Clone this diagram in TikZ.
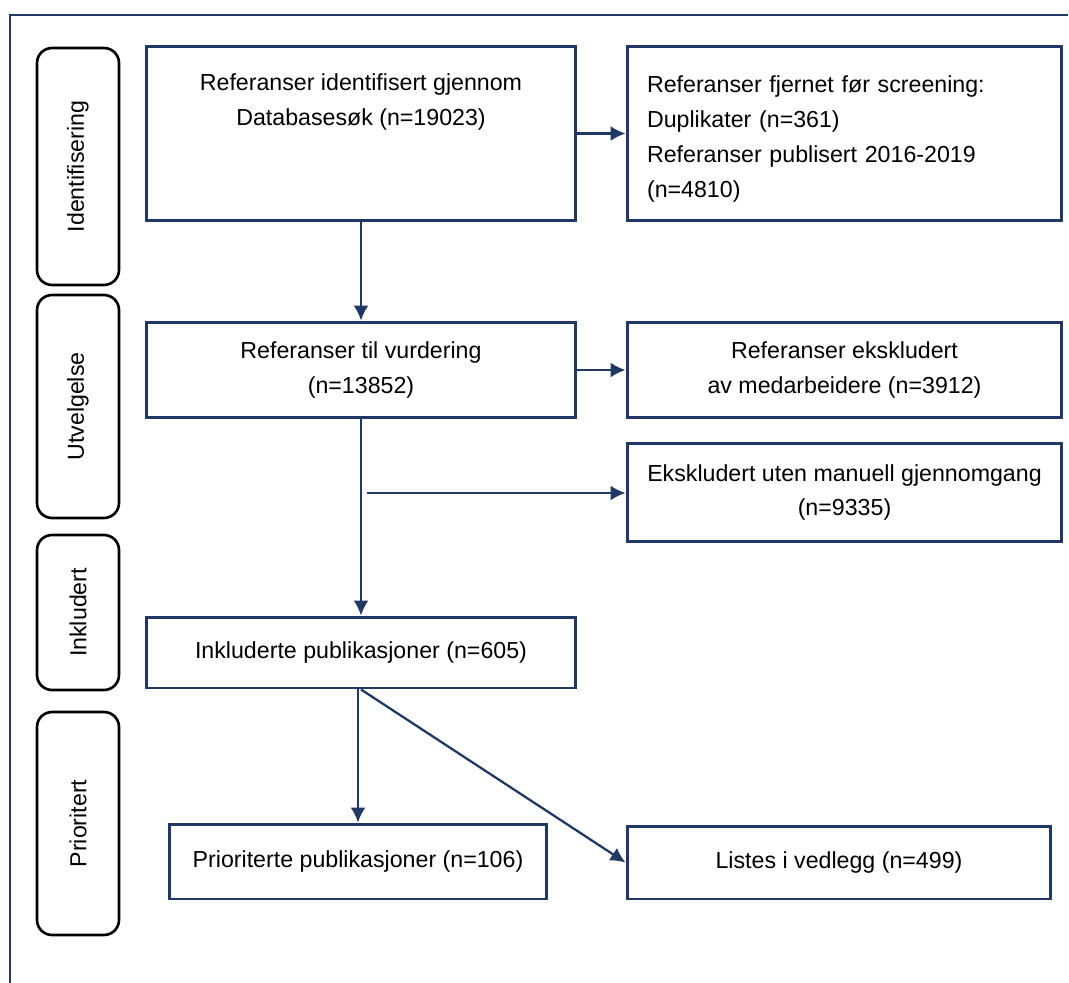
\documentclass[tikz,border=0pt]{standalone}
\usepackage{fontspec}
\setmainfont{Liberation Sans}
\usetikzlibrary{arrows.meta}
\usetikzlibrary{positioning}
\definecolor{navy}{RGB}{32,56,100}

\begin{document}
\begin{tikzpicture}[x=0.02cm, y=-0.02cm,
    font=\fontsize{13.2}{19.8}\selectfont,
    box/.style={draw=navy, line width=1.7pt, inner sep=0pt, align=center},
    phase/.style={draw=black, line width=1.5pt, rounded corners=0.3cm, rotate=90, minimum height=1.64cm},
    flow/.style={draw=navy, line width=1.3pt, -{Latex[length=3mm, width=3mm]}}]
      \useasboundingbox (0,0) rectangle (1069,983);
      \draw[navy, line width=0.8pt] (10,983) -- (10,15) -- (1068,15);

      \node[phase, minimum width=4.74cm] (ident) at (78,166.5) {Identifisering};
      \node[phase, minimum width=4.46cm] (utv) at (78,406.5) {Utvelgelse};
      \node[phase, minimum width=3.10cm] (inkl) at (78,612.5) {Inkludert};
      \node[phase, minimum width=4.46cm] (prio) at (78,823.5) {Prioritert};

      \node[box, minimum width=8.58cm, minimum height=3.5cm] (found) at (361,133.5) {};
      \node[align=center, below=0.58cm of found.north, inner sep=0pt] (foundtxt) {Referanser identifisert gjennom\\Databasesøk (n=19023)};
      \node[box, align=left, minimum width=8.7cm, minimum height=3.5cm, text width=7.9cm] (removed) at (844.5,133.5)
        {\rule{0pt}{16pt}Referanser fjernet før screening:\\Duplikater (n=361)\\Referanser publisert 2016-2019\\(n=4810)};
      \node[box, minimum width=8.58cm, minimum height=1.92cm] (assess) at (361,370) {Referanser til vurdering\\(n=13852)};
      \node[box, minimum width=8.7cm, minimum height=1.9cm] (exstaff) at (844.5,370) {Referanser ekskludert\\av medarbeidere (n=3912)};
      \node[box, minimum width=8.7cm, minimum height=1.98cm] (exauto) at (844.5,492.5) {Ekskludert uten manuell gjennomgang\\(n=9335)};
      \node[box, minimum width=8.58cm, minimum height=1.42cm] (incl) at (361,652.5) {Inkluderte publikasjoner (n=605)};
      \node[box, minimum width=7.56cm, minimum height=1.5cm] (prior) at (358,861.5) {Prioriterte publikasjoner (n=106)};
      \node[box, minimum width=8.48cm, minimum height=1.46cm] (annex) at (839,862.5) {Listes i vedlegg (n=499)};

      \coordinate (split) at (367,493);

      \draw[flow] (found) -- (assess);
      \draw[flow] (found.east) -- (removed.west);
      \draw[flow] (assess.east) -- (exstaff.west);
      \draw[flow] (assess.south) -- (incl.north);
      \draw[flow] (split) -- (split -| exauto.west);
      \draw[flow] (incl.south -| prior.north) -- (prior.north);
      \draw[flow] (incl.south) -- (annex.west);
    \end{tikzpicture}
\end{document}
